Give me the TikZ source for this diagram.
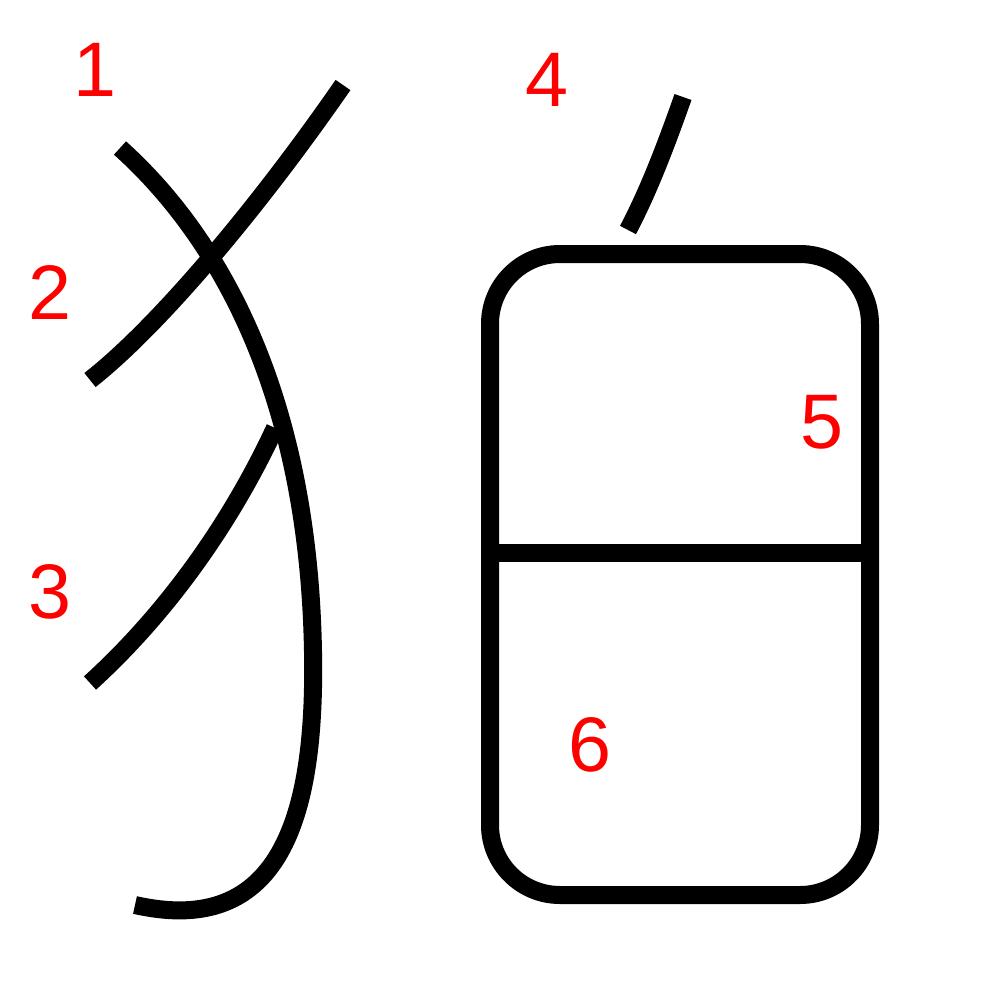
\documentclass[tikz,border=0pt]{standalone}
\usepackage{fontspec}
\setmainfont{Liberation Sans}
\begin{document}
\begin{tikzpicture}[x=0.1mm,y=-0.1mm,
  strk/.style={line width=1.8mm,draw=black},
  lbl/.style={text=red,font=\fontsize{22}{26}\selectfont,inner sep=0pt}]
\useasboundingbox (0,0) rectangle (1000,1000);
% stroke 1
\coordinate (s1a) at (120,148);
\coordinate (s1b) at (135,905);
\draw[strk] (s1a) .. controls (200,220) and (300,360) .. (312,620)
  .. controls (320,800) and (290,940) .. (s1b);
% stroke 2
\coordinate (s2a) at (90,380);
\coordinate (s2b) at (343,85);
\draw[strk] (s2a) .. controls (160,325) and (260,205) .. (s2b);
% stroke 3
\coordinate (s3a) at (90,683);
\coordinate (s3b) at (275,428);
\draw[strk] (s3a) .. controls (165,615) and (230,525) .. (s3b);
% stroke 4
\coordinate (s4a) at (628,230);
\coordinate (s4b) at (683,97);
\draw[strk] (s4a) .. controls (648,192) and (665,148) .. (s4b);
% box
\draw[strk,rounded corners=7mm] (490,254) rectangle (870,895);
\coordinate (m1) at (490,553);
\coordinate (m2) at (870,553);
\draw[strk] (m1) -- (m2);
% labels
\node[lbl] (l1) at (95,70) {1};
\node[lbl] (l2) at (50,292) {2};
\node[lbl] (l3) at (50,592) {3};
\node[lbl] (l4) at (547,80) {4};
\node[lbl] (l5) at (822,422) {5};
\node[lbl] (l6) at (590,745) {6};
\end{tikzpicture}
\end{document}
